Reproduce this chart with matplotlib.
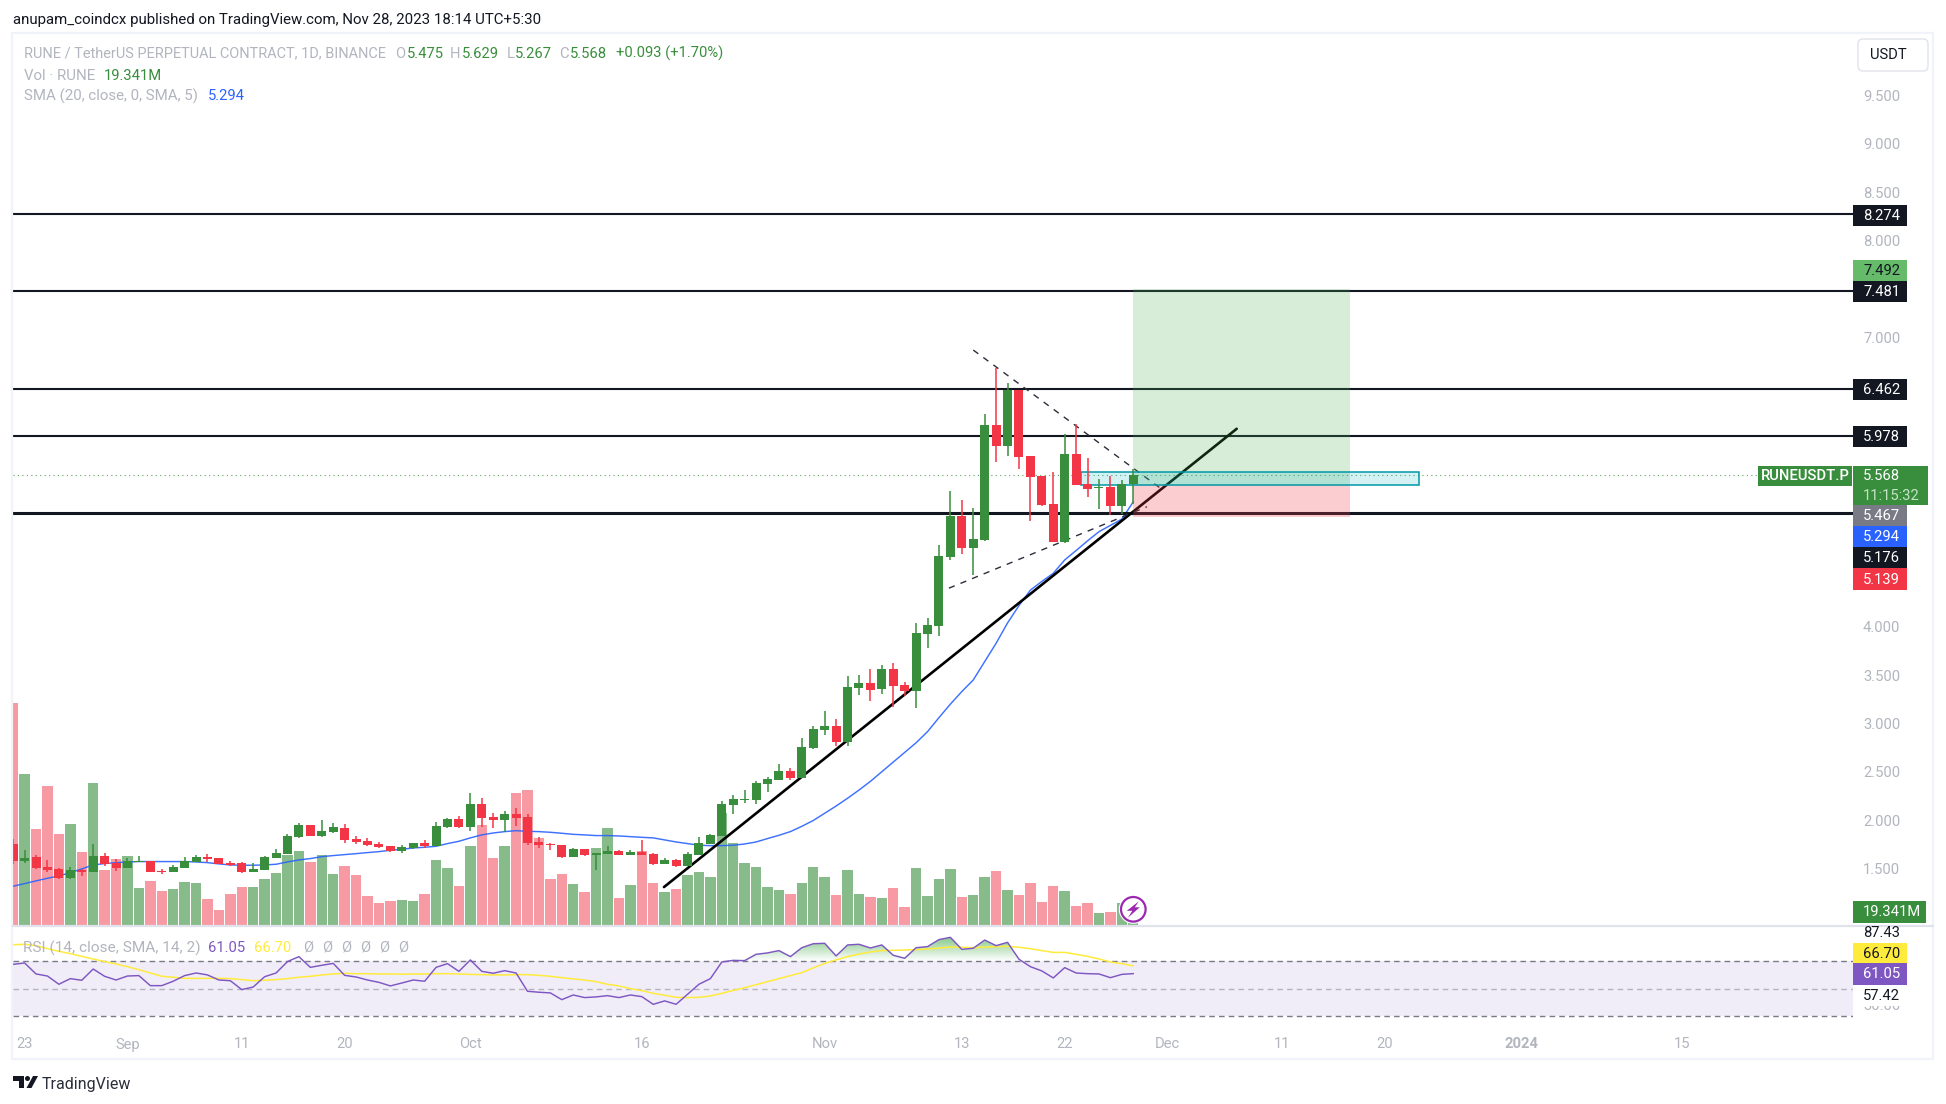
import matplotlib
matplotlib.use("Agg")
import matplotlib.pyplot as plt
from matplotlib.patches import Rectangle, Circle, Polygon, FancyBboxPatch, PathPatch
from matplotlib.path import Path
from matplotlib.colors import LinearSegmentedColormap
from matplotlib.transforms import Bbox, TransformedBbox
import numpy as np

plt.rcParams['font.family'] = ['Roboto', 'DejaVu Sans']

# ---------- data (days since 23 Aug 2023, first bar = 22 Aug) ----------
first_day = -1
opens = [1.752,1.577,1.618,1.515,1.494,1.401,1.487,1.463,1.628,1.556,1.504,1.566,1.577,1.476,1.463,1.504,1.566,1.618,1.608,1.556,
         1.556,1.463,1.484,1.608,1.649,1.825,1.949,1.835,1.877,1.918,1.804,1.783,1.752,1.732,1.680,1.711,1.763,1.732,1.928,2.011,
         1.928,2.166,2.032,2.001,2.063,2.032,1.773,1.752,1.742,1.618,1.701,1.639,1.649,1.680,1.639,1.670,1.649,1.546,1.587,1.525,
         1.639,1.752,1.835,2.156,2.208,2.208,2.373,2.414,2.508,2.435,2.746,2.932,2.973,2.808,3.367,3.419,3.356,3.563,3.398,3.336,
         3.926,4.009,4.723,5.147,4.816,4.899,6.089,5.872,6.451,5.768,5.561,5.271,4.878,5.789,5.478,5.437,5.447,5.251,5.475]
highs = [1.804,1.690,1.639,1.587,1.504,1.515,1.497,1.752,1.659,1.597,1.608,1.628,1.577,1.494,1.535,1.618,1.639,1.649,1.608,1.577,
         1.566,1.556,1.628,1.701,1.856,1.970,1.949,2.001,1.970,1.959,1.835,1.815,1.773,1.732,1.742,1.763,1.794,1.980,2.021,2.042,
         2.280,2.228,2.073,2.094,2.125,2.063,1.825,1.763,1.742,1.711,1.701,1.659,1.732,1.690,1.690,1.794,1.659,1.608,1.597,1.670,
         1.825,1.856,2.197,2.259,2.311,2.404,2.446,2.580,2.539,2.849,2.973,3.129,3.046,3.491,3.501,3.563,3.605,3.626,3.429,4.040,
         4.091,4.847,5.406,5.313,5.230,6.203,6.679,6.524,6.451,5.768,5.561,5.603,5.996,6.099,5.747,5.530,5.561,5.520,5.629]
lows = [1.546,1.559,1.494,1.466,1.390,1.394,1.421,1.458,1.525,1.473,1.500,1.562,1.463,1.442,1.463,1.504,1.566,1.566,1.546,1.525,
        1.452,1.463,1.484,1.608,1.649,1.815,1.835,1.825,1.866,1.763,1.752,1.732,1.711,1.670,1.659,1.701,1.711,1.732,1.918,1.918,
        1.887,1.928,1.918,1.877,1.939,1.742,1.711,1.690,1.608,1.618,1.628,1.483,1.649,1.639,1.639,1.639,1.535,1.546,1.515,1.525,
        1.639,1.752,1.835,2.063,2.177,2.166,2.290,2.414,2.414,2.435,2.735,2.880,2.766,2.766,3.294,3.232,3.305,3.170,3.284,3.160,
        3.781,3.905,4.692,4.754,4.537,4.888,5.706,5.768,5.634,5.095,5.251,4.878,4.868,5.468,5.344,5.220,5.157,5.168,5.267]
closes = [1.580,1.608,1.504,1.480,1.401,1.484,1.463,1.628,1.546,1.504,1.577,1.577,1.463,1.466,1.515,1.577,1.618,1.597,1.546,1.539,
          1.463,1.494,1.618,1.659,1.835,1.949,1.835,1.887,1.928,1.794,1.773,1.742,1.721,1.680,1.721,1.763,1.732,1.939,2.011,1.928,
          2.166,2.021,2.001,2.063,2.021,1.763,1.742,1.742,1.618,1.701,1.639,1.659,1.680,1.639,1.670,1.639,1.546,1.587,1.525,1.649,
          1.763,1.846,2.166,2.218,2.218,2.383,2.425,2.508,2.435,2.756,2.942,2.973,2.808,3.377,3.419,3.346,3.563,3.387,3.336,3.936,
          4.019,4.733,5.147,4.816,4.909,6.089,5.872,6.451,5.758,5.551,5.261,4.878,5.789,5.468,5.427,5.447,5.251,5.478,5.568]
volumes = [288,196,125,181,119,132,95,184,72,87,90,49,58,45,48,57,55,35,21,41,
           50,50,61,68,92,97,83,92,67,77,66,39,30,32,34,32,41,85,75,52,
           103,130,88,103,172,175,114,61,67,54,44,101,126,36,53,97,55,44,48,66,
           70,63,146,107,81,76,50,46,41,55,76,63,40,72,41,37,36,49,24.5,75,
           39,61,74,37,40,63,71,46,40,55,31,52,45,26,30,17,18,30,19.341]
sma20 = [1.315,1.342,1.370,1.397,1.421,1.456,1.494,1.535,1.549,1.559,1.566,1.570,1.570,1.570,1.570,1.570,1.566,1.559,1.546,1.535,
         1.532,1.532,1.535,1.542,1.566,1.587,1.601,1.621,1.632,1.642,1.652,1.663,1.673,1.687,1.697,1.711,1.718,1.728,1.756,1.780,
         1.815,1.846,1.866,1.880,1.890,1.883,1.880,1.873,1.863,1.852,1.846,1.839,1.839,1.835,1.828,1.821,1.815,1.794,1.773,1.756,
         1.739,1.735,1.735,1.739,1.752,1.773,1.808,1.842,1.880,1.935,1.995,2.070,2.145,2.225,2.310,2.400,2.500,2.600,2.700,2.800,
         2.915,3.060,3.200,3.330,3.450,3.640,3.830,4.040,4.220,4.380,4.470,4.554,4.692,4.790,4.890,4.985,5.050,5.115,5.294]
rsi = [67.8,68.8,60.8,59.3,53.3,57.4,56.2,64.4,59.1,56.4,59.3,59.6,52.3,52.3,55.5,59.6,61.5,60.1,56.4,55.9,
       49.4,51.3,58.8,61.5,69.8,73.4,65.6,67.1,68.5,59.8,58.6,56.4,54.7,52.1,54.2,56.4,55.5,65.6,68.3,62.7,
       71.0,62.7,61.3,63.2,61.5,48.2,47.5,47.0,42.1,45.5,43.6,44.1,45.0,43.6,45.5,44.3,38.7,41.2,38.7,46.0,
       53.3,57.4,69.5,70.7,70.5,75.1,76.1,77.8,73.4,79.9,82.8,83.1,73.9,81.9,82.4,79.7,81.9,74.4,72.2,79.9,
       80.7,85.8,87.43,78.7,79.5,85.5,81.4,83.8,71.5,66.1,63.0,57.9,65.4,61.5,61.0,60.8,58.1,60.5,61.05]
rsi_ma = [82.1,82.4,81.4,79.2,77.3,75.6,73.6,71.7,69.8,68.1,66.1,63.9,61.5,59.1,58.4,57.6,57.6,57.6,57.6,57.4,
          56.7,55.9,56.2,56.7,57.4,58.4,59.1,60.1,60.8,61.3,61.0,61.0,60.8,60.8,60.6,60.8,60.8,61.0,61.0,60.8,
          60.5,60.3,60.1,60.1,60.3,60.3,59.8,59.1,58.1,57.2,56.4,55.2,53.3,52.1,50.1,48.7,46.7,45.3,43.8,43.6,
          43.8,44.8,46.7,48.9,50.8,53.0,55.2,57.4,59.6,61.8,65.2,68.5,71.0,73.4,75.3,76.8,77.8,78.0,78.2,78.5,
          79.0,79.7,80.4,80.2,79.9,80.4,80.7,80.9,80.2,79.2,77.8,76.5,76.5,75.1,73.6,71.7,69.5,68.3,66.70]

level_prices = [8.274, 7.481, 6.462, 5.978]
thick_level = 5.176
last_price = 5.568
entry_price, target_price, stop_price = 5.467, 7.492, 5.139
box_price = (5.471, 5.599)
box_days = (92.4, 122.0)
position_days = (97, 116.0)
trend_days, trend_prices = (55.94, 106.05), (1.306, 6.050)
upper_days, upper_prices = (83.0, 99.6), (6.865, 5.415)
lower_days, lower_prices = (80.87, 98.2), (4.40, 5.243)

price_ticks = [9.5, 9.0, 8.5, 8.0, 7.0, 4.0, 3.5, 3.0, 2.5, 2.0, 1.5]
time_ticks = [0, 9, 19, 28, 39, 54, 70, 82, 91, 100, 110, 119, 131, 145]
time_labels = ['23', 'Sep', '11', '20', 'Oct', '16', 'Nov', '13', '22', 'Dec', '11', '20', '2024', '15']

# ---------- colours ----------
GREEN, RED = '#388E3C', '#F23645'
VOLG, VOLR = '#88BB8A', '#F89AA3'
BLUE, PURPLE, YELLOW = '#2962FF', '#7E57C2', '#FFEB3B'
INK, GREY, FRAME = '#131722', '#B2B5BE', '#F0F3FA'

W, H = 1946, 1104
px = 0.72  # points per pixel at dpi 100
BASE = 14.7
fig = plt.figure(figsize=(W / 100, H / 100), dpi=100, facecolor='white')

def pane(x0, y0, x1, y1, **kw):
    return fig.add_axes([x0 / W, 1 - y1 / H, (x1 - x0) / W, (y1 - y0) / H], **kw)

L, R, TOP, SEP, BOT = 13, 1853, 33, 926, 1027
XLIM = (-1.015, 159.97)
days = np.arange(first_day, first_day + len(opens))
o, h, l, c = map(np.array, (opens, highs, lows, closes))
up = c >= o

# volume pane (below everything)
ax_v = pane(L, TOP, R, SEP)
ax_v.set_xlim(*XLIM)
ax_v.set_ylim(0, 1152)
ax_v.axis('off')
ax_v.bar(days, volumes, width=0.91, color=[VOLG if u else VOLR for u in up], linewidth=0)

# price pane
ax = pane(L, TOP, R, SEP, sharex=None)
ax.patch.set_alpha(0)
ax.set_xlim(*XLIM)
ax.set_ylim(0.903, 10.147)
for s in ax.spines.values():
    s.set_visible(False)
ax.xaxis.set_visible(False)
ax.yaxis.tick_right()
ax.set_yticks(price_ticks)
ax.set_yticklabels([f'{t:.3f}' for t in price_ticks], color=GREY, fontsize=BASE * px)
ax.tick_params(axis='y', length=0, pad=10 * px)

ax.plot(days, sma20, color=BLUE, lw=1.05, zorder=2, alpha=0.9)
for p in level_prices:
    ax.axhline(p, color=INK, lw=1.5, zorder=3)
ax.axhline(thick_level, color=INK, lw=2.2, zorder=3)
ax.axhline(last_price, color=GREEN, lw=0.8, ls=(0, (1, 3)), alpha=0.8, zorder=3)
ax.plot(trend_days, trend_prices, color='black', lw=1.9, zorder=3, solid_capstyle='round')
ax.plot(upper_days, upper_prices, color='#2A2E39', lw=1.0, ls=(0, (4.5, 4.5)), zorder=3)
ax.plot(lower_days, lower_prices, color='#2A2E39', lw=1.0, ls=(0, (4.5, 4.5)), zorder=3)

pw = position_days[1] - position_days[0]
ax.add_patch(Rectangle((position_days[0], entry_price), pw, target_price - entry_price,
                       facecolor='#4CAF50', alpha=0.22, lw=0, zorder=4))
ax.add_patch(Rectangle((position_days[0], stop_price), pw, entry_price - stop_price,
                       facecolor=RED, alpha=0.25, lw=0, zorder=4))
ax.add_patch(Rectangle((box_days[0], box_price[0]), box_days[1] - box_days[0], box_price[1] - box_price[0],
                       facecolor='#00ACC1', edgecolor='none', alpha=0.17, zorder=4.1))
ax.add_patch(Rectangle((box_days[0], box_price[0]), box_days[1] - box_days[0], box_price[1] - box_price[0],
                       facecolor='none', edgecolor='#0097A7', lw=1.1, zorder=4.2))

colors = [GREEN if u else RED for u in up]
ax.vlines(days, l, h, colors=colors, lw=1.1, zorder=5)
bottoms = np.minimum(o, c)
ax.bar(days, np.maximum(np.abs(c - o), 0.01), bottom=bottoms, width=0.787, color=colors, linewidth=0, zorder=6)

# RSI pane
ax_r = pane(L, SEP, R, BOT)
ax_r.patch.set_alpha(0)
ax_r.set_xlim(*XLIM)
ax_r.set_ylim(22.2, 95.7)
for s in ax_r.spines.values():
    s.set_visible(False)
ax_r.yaxis.set_visible(False)
ax_r.set_xticks(time_ticks)
ax_r.set_xticklabels(time_labels, color=GREY, fontsize=BASE * px)
for t, lab in zip(ax_r.get_xticklabels(), time_labels):
    if lab == '2024':
        t.set_fontweight('bold')
ax_r.tick_params(axis='x', length=0, pad=10.5 * px)

ax_r.axhspan(30, 70, color=PURPLE, alpha=0.105, lw=0, zorder=1)
ax_r.axhline(70, color='#787B86', lw=1, ls=(0, (4, 3)), zorder=2)
ax_r.axhline(50, color='#787B86', lw=1, ls=(0, (4, 3)), alpha=0.5, zorder=2)
ax_r.axhline(30, color='#787B86', lw=1, ls=(0, (4, 3)), zorder=2)

rsi_a = np.array(rsi)
poly = ax_r.fill_between(days, 70, rsi_a, where=rsi_a > 70, interpolate=True, color='none', lw=0)
compound = Path.make_compound_path(*poly.get_paths())
clip = PathPatch(compound, transform=ax_r.transData, facecolor='none', edgecolor='none')
ax_r.add_patch(clip)
cm = LinearSegmentedColormap.from_list('g', [(0.30, 0.69, 0.31, 0.0), (0.30, 0.69, 0.31, 0.70)])
grad = ax_r.imshow(np.linspace(1, 0, 64).reshape(-1, 1), cmap=cm, vmin=0, vmax=1, aspect='auto',
                   extent=(XLIM[0], XLIM[1], 70, 88), zorder=2.5)
grad.set_clip_path(clip)
ax_r.set_xlim(*XLIM)
ax_r.set_ylim(22.2, 95.7)
ax_r.plot(days, rsi_ma, color=YELLOW, lw=1.1, zorder=3)
ax_r.plot(days, rsi, color=PURPLE, lw=1.05, zorder=4)

# ---------- chrome in pixel coordinates ----------
ov = fig.add_axes([0, 0, 1, 1], zorder=20)
ov.set_xlim(0, W)
ov.set_ylim(H, 0)
ov.axis('off')
ov.patch.set_alpha(0)

ov.add_patch(Rectangle((12, 33), 1921, 1026, fill=False, edgecolor=FRAME, lw=1.6))
ov.plot([13, 1933], [926, 926], color='#E0E3EB', lw=1.6)

def txt(x, y, s, color=GREY, size=BASE, ha='left', **kw):
    return ov.text(x, y, s, color=color, fontsize=size * px, ha=ha, va='center', **kw)

txt(13, 20, 'anupam_coindcx published on TradingView.com, Nov 28, 2023 18:14 UTC+5:30', color=INK, size=15)

# legends
txt(23.5, 53.5, 'RUNE / TetherUS PERPETUAL CONTRACT, 1D, BINANCE', size=14.5)
for x, s in [(397, 'O'), (451.5, 'H'), (508.7, 'L'), (561, 'C')]:
    txt(x - 2, 53.5, s)
for x, s in [(406.6, '5.475'), (462, '5.629'), (515, '5.267'), (570, '5.568'), (616, '+0.093 (+1.70%)')]:
    txt(x, 53.5, s, color=GREEN)
txt(23.5, 75.5, 'Vol · RUNE', size=15)
txt(103.6, 75.5, '19.341M', color=GREEN)
txt(23.5, 96.5, 'SMA (20, close, 0, SMA, 5)', size=15)
txt(207.6, 96.5, '5.294', color=BLUE)
txt(23, 948, 'RSI (14, close, SMA, 14, 2)', size=15.4)
txt(208, 948, '61.05', color=PURPLE)
txt(253.6, 948, '66.70', color=YELLOW)
for i in range(6):
    txt(303 + 19 * i, 948, 'Ø')

# USDT button
ov.add_patch(FancyBboxPatch((1861, 42), 64, 26, boxstyle='round,pad=3,rounding_size=5',
                            facecolor='white', edgecolor='#E0E3EB', lw=1))
txt(1870, 55, 'USDT', color=INK)

def tag(y, s, face, color='white', x0=1853, x1=1907, hh=10.6):
    ov.add_patch(Rectangle((x0, y - hh), x1 - x0, 2 * hh, facecolor=face, edgecolor='none'))
    txt(x0 + 10, y + 0.5, s, color=color)

tag(215.5, '8.274', INK)
tag(270.5, '7.492', '#66BB6A', color=INK)
tag(291.5, '7.481', INK)
tag(389.5, '6.462', INK)
tag(436.5, '5.978', INK)
ov.add_patch(Rectangle((1758, 466), 94, 20, facecolor=GREEN, edgecolor='none'))
txt(1805, 476.5, 'RUNEUSDT.P', color='white', ha='center', fontweight='medium', size=14.8)
ov.add_patch(Rectangle((1853, 466), 75, 39, facecolor=GREEN, edgecolor='none'))
txt(1863, 476.5, '5.568', color='white')
txt(1863, 495.5, '11:15:32', color='#C4E3C6')
tag(515.5, '5.467', '#787B86')
tag(536.5, '5.294', BLUE)
tag(557.5, '5.176', INK)
tag(579, '5.139', RED)
tag(912, '19.341M', GREEN, x1=1926)

# RSI scale
bb = TransformedBbox(Bbox([[1853, 926], [1935, 1027]]), ov.transData)
t1 = txt(1863, 933, '87.43', color=INK)
t1.set_clip_box(bb)
t1.set_clip_on(True)
txt(1863, 1006, '30.00')
ov.add_patch(Rectangle((1853, 985), 54, 20.5, facecolor='white', edgecolor='none', zorder=3))
tag(953.5, '66.70', YELLOW, color=INK)
tag(974, '61.05', PURPLE)
txt(1863, 995.5, '57.42', color=INK, zorder=4)

# lightning badge
cx, cy = 1133.3, 909.3
ov.add_patch(Circle((cx, cy), 14.5, facecolor='white', edgecolor='none', zorder=5))
ov.add_patch(Circle((cx, cy), 12.3, facecolor='white', edgecolor='#9C27B0', lw=1.6, zorder=6))
ov.add_patch(Polygon([(cx + 5.5, cy - 8), (cx - 6.5, cy + 1.5), (cx - 1, cy + 1.5), (cx - 5.5, cy + 8.5),
                      (cx + 6.5, cy - 2), (cx + 1.5, cy - 2)], facecolor='#9C27B0', edgecolor='none', zorder=7))

# TradingView logo
ov.add_patch(Polygon([(13, 1076), (24, 1076), (24, 1088), (19, 1088), (19, 1081), (13, 1081)], facecolor=INK, edgecolor='none'))
ov.add_patch(Circle((27.5, 1078.5), 2.5, facecolor=INK, edgecolor='none'))
ov.add_patch(Polygon([(33, 1076), (38, 1076), (31.5, 1088), (26.5, 1088)], facecolor=INK, edgecolor='none'))
txt(42, 1084, 'TradingView', color='#2A2E39', size=16)

fig.savefig('out.png', dpi=100)
